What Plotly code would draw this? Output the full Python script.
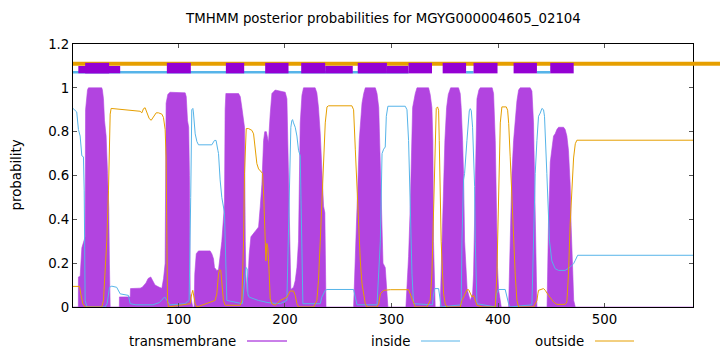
import plotly.graph_objects as go

# ---------------- data ----------------
seq_len = 583

tm_x = [1, 6, 6.1, 7.7, 9.3, 10.8, 12.4, 12.8, 13.3, 14.6, 15.5, 28, 28.6, 29.6, 30.6, 32.1, 33.4, 34.6, 35.2, 35.9,
        44.5, 44.6, 54.7, 55, 64, 66, 69.5, 71.5, 74, 75.5, 78, 82, 84.4, 86, 87.5, 88.4, 90, 92,
        106.3, 107.3, 108.5, 109.6, 110.3, 111, 112, 113.4, 114.7, 115.3, 116.7, 118.8, 129.7, 131.3, 132.9, 133.8,
        136, 137.6, 140.7, 143.2, 143.8, 144.5, 156.4, 158, 159.5, 161.1, 162, 162.7, 163.3, 164.5, 165.2, 166.4,
        168, 171, 175.2, 176.8, 178.3, 179.9, 181, 182.5, 184.5, 186.1, 187.7, 190.8, 200.2, 201.8, 203.4, 204.3,
        205.5, 208, 209.6, 211.2, 212.7, 214.3, 215.9, 217.4, 228.3, 229.9, 231.4, 233.1, 234.6, 236.2, 237.4,
        237.8, 238.5, 264.4, 265.3, 267.6, 268.5, 269.7, 270.7, 272.3, 273.9, 275.4, 284.8, 286.4, 288, 289.5,
        291.1, 292, 294.1, 295.5, 296.6, 313.5, 314.5, 316, 317.6, 318.6, 319.8, 322.3, 323.9, 334.8, 336.3,
        337.9, 338.8, 339.4, 340.4, 341, 345.7, 346.6, 347.9, 349.2, 350.1, 351.7, 353.3, 355.5, 362.9, 364.5,
        365.4, 366.7, 367.6, 368.6, 369.5, 371, 373.9, 376.1, 377, 378, 379.2, 380.2, 382, 383.3, 394.5, 395.8,
        397.4, 398.4, 399.5, 400.5, 402.1, 403, 409.9, 410.5, 411.4, 413, 414.6, 416.1, 417.7, 419.3, 420.8,
        430.2, 431.8, 433.3, 434.3, 434.9, 435.8, 436.5, 446, 446.4, 447.4, 448.3, 449, 450.5, 452.1, 453.6,
        455.2, 456.8, 461.5, 463, 464.6, 466.1, 467.7, 468.6, 469.3, 470.2, 471, 472.5, 583]
tm_y = [0, 0, 0.137, 0.14, 0.27, 0.30, 0.32, 0.9, 0.94, 0.99, 1.0, 1.0, 0.99, 0.95, 0.85, 0.78, 0.61, 0.45, 0.2, 0.0,
        0, 0.046, 0.046, 0.084, 0.086, 0.09, 0.11, 0.13, 0.137, 0.12, 0.10, 0.09, 0.085, 0.13, 0.2, 0.93, 0.97, 0.98,
        0.977, 0.96, 0.85, 0.82, 0.6, 0.06, 0.03, 0.0, 0.0, 0.15, 0.243, 0.256, 0.256, 0.243, 0.22, 0.18,
        0.167, 0.17, 0.30, 0.47, 0.9, 0.974, 0.974, 0.96, 0.91, 0.85, 0.82, 0.3, 0.15, 0.05, 0.12, 0.24,
        0.32, 0.34, 0.365, 0.46, 0.56, 0.76, 0.80, 0.80, 0.75, 0.88, 0.974, 0.99, 0.98, 0.95, 0.6, 0.3,
        0.08, 0.09, 0.12, 0.18, 0.3, 0.84, 0.966, 1.0, 1.0, 0.977, 0.913, 0.79, 0.61, 0.46, 0.43,
        0.10, 0.0, 0.0, 0.15, 0.46, 0.58, 0.76, 0.85, 0.93, 0.974, 1.0, 1.0, 0.974, 0.91, 0.61,
        0.30, 0.2, 0.18, 0.05, 0.0, 0.0, 0.08, 0.23, 0.46, 0.76, 0.91, 0.974, 1.0, 1.0, 0.97,
        0.91, 0.76, 0.3, 0.08, 0.0, 0.0, 0.15, 0.30, 0.61, 0.76, 0.91, 0.97, 1.0, 1.0, 0.974,
        0.91, 0.76, 0.61, 0.3, 0.2, 0.08, 0.03, 0.06, 0.15, 0.4, 0.76, 0.95, 0.99, 1.0, 1.0, 0.974,
        0.76, 0.46, 0.18, 0.08, 0.04, 0.0, 0.0, 0.15, 0.30, 0.61, 0.76, 0.85, 0.94, 0.99, 1.0,
        1.0, 0.985, 0.84, 0.61, 0.38, 0.15, 0.0, 0.0, 0.15, 0.40, 0.53, 0.66, 0.72, 0.78, 0.79,
        0.81, 0.82, 0.82, 0.81, 0.78, 0.715, 0.56, 0.37, 0.30, 0.15, 0.03, 0.0, 0.0]

in_x = [1, 4.5, 6.1, 7.7, 9.3, 10.8, 11.5, 12.4, 14, 31.2, 33, 35.3, 37.4, 42, 45.3, 53, 54.7, 60, 76, 82, 87, 89, 92,
        106, 110, 111.5, 112.5, 113.5, 114, 115.7, 117.3, 118.8, 131.3, 133.8, 135.3, 137, 137.6, 139.1, 140.7,
        143.2, 143.8, 144.5, 145.4, 160, 162.7, 163.3, 164.5, 165.2, 166.4, 175, 184, 195.5, 201.8, 203.4,
        205.5, 206.4, 207.1, 208, 209.6, 211.2, 212.7, 214.3, 215.2, 215.9, 216.8, 233.1, 234.6, 237.8, 239.4,
        264.4, 266, 267.6, 286.4, 289.5, 291.1, 292.6, 294.1, 295.1, 296.6, 312.9, 314.5, 316, 317.6, 319.2,
        320.7, 338.5, 339.4, 340.7, 344.2, 345.7, 346.6, 365.4, 366.1, 367.6, 368.6, 370.8, 373.0, 373.9, 374.9,
        376.1, 377.1, 378.0, 378.6, 380.2, 397.4, 398.5, 400.5, 406.7, 409.9, 411.4, 431.8, 433.3, 434.9, 436.5,
        438, 439.6, 441.2, 442.7, 443.6, 445.8, 447.4, 448.3, 450.5, 453.6, 456.8, 463, 467.7, 470.9, 472.5,
        474.7, 583]
in_y = [0.906, 0.89, 0.81, 0.78, 0.69, 0.685, 0.53, 0.03, 0.0, 0.0, 0.015, 0.09, 0.095, 0.09, 0.06, 0.053, 0.015, 0.01,
        0.01, 0.02, 0.046, 0.03, 0.01,
        0.015, 0.03, 0.5, 0.9, 0.906, 0.89, 0.79, 0.755, 0.74, 0.74, 0.76, 0.76, 0.715, 0.70, 0.58, 0.50,
        0.43, 0.30, 0.12, 0.03, 0.015, 0.15, 0.18, 0.175, 0.06, 0.045, 0.03, 0.02, 0.015, 0.03, 0.45,
        0.82, 0.85, 0.855, 0.84, 0.82, 0.78, 0.715, 0.69, 0.45, 0.15, 0.015, 0.015, 0.045, 0.076, 0.08,
        0.08, 0.045, 0.01, 0.01, 0.3, 0.70, 0.72, 0.73, 0.87, 0.916, 0.916, 0.90, 0.76, 0.46, 0.15,
        0.015, 0.01, 0.06, 0.084, 0.084, 0.015, 0.0, 0.01, 0.30, 0.58, 0.61, 0.76, 0.895, 0.905, 0.895,
        0.82, 0.68, 0.55, 0.30, 0.015, 0.0, 0.06, 0.08, 0.08, 0.015, 0.0, 0.01, 0.30, 0.61, 0.76,
        0.87, 0.885, 0.906, 0.90, 0.87, 0.61, 0.43, 0.30, 0.21, 0.175, 0.167, 0.167, 0.182, 0.198, 0.213,
        0.236, 0.236]

out_x = [1, 7.1, 8.3, 10.2, 12.4, 28, 29.6, 31.2, 32.7, 34.3, 35.3, 35.9, 36.8, 43.7, 54.7, 64, 65.6, 67.2, 68.7,
         70.3, 72.5, 74.4, 76.6, 79.1, 81.2, 84.4, 85.9, 87.5, 88.4, 89.1, 89.7, 90.6, 110.9, 112.5, 113.4, 115.7,
         117.3, 134.4, 136, 137.6, 138.5, 139.7, 140.7, 142.2, 143.8, 158, 159.5, 161.1, 162, 162.7, 163.6, 165.8,
         168.9, 170.5, 172, 173.6, 175.2, 177.3, 178.9, 179.9, 180.8, 182.1, 183, 183.9, 185.2, 186.1, 187.7,
         190.8, 195.5, 201.8, 204.9, 208, 209.6, 211.2, 212.7, 226.8, 229.9, 231.4, 233.1, 234.6, 236.2, 237.8,
         239.4, 240.9, 262.8, 264.4, 266, 267.6, 269.1, 270.7, 272.3, 273.9, 275.4, 277, 286.4, 288, 289.5,
         292.6, 298.9, 316, 317.6, 320.7, 322.3, 333.2, 336.3, 337.9, 339.4, 340.4, 341, 342, 343.2, 344.2,
         344.8, 345.7, 346.6, 347.9, 348.9, 350.4, 352, 364.5, 366.1, 367.7, 369.2, 370.8, 372.4, 373.9, 375.5,
         377, 378.6, 380.2, 385, 397.4, 398.9, 400.5, 402.1, 403.6, 407.7, 409, 410, 411.4, 413, 414.6, 416.1,
         417.7, 419.3, 433.3, 436.5, 437.4, 438, 442.7, 444.3, 447.4, 450.5, 452.1, 455.2, 463, 464.6, 466.1,
         467.7, 469.3, 470.9, 472.5, 474, 583]
out_y = [0.094, 0.094, 0.06, 0.015, 0.0, 0.0, 0.03, 0.15, 0.30, 0.53, 0.76, 0.88, 0.906, 0.903, 0.898, 0.893, 0.886,
         0.905, 0.909, 0.89, 0.86, 0.852, 0.87, 0.886, 0.886, 0.88, 0.865, 0.81, 0.68, 0.30, 0.03, 0.0, 0.015,
         0.06, 0.076, 0.015, 0.0, 0.03, 0.06, 0.15, 0.17, 0.168, 0.106, 0.03, 0.008, 0.008, 0.03, 0.30, 0.61,
         0.76, 0.814, 0.814, 0.806, 0.79, 0.715, 0.654, 0.63, 0.62, 0.61, 0.52, 0.34, 0.21, 0.29, 0.27, 0.15,
         0.038, 0.015, 0.008, 0.03, 0.045, 0.073, 0.073, 0.053, 0.015, 0.0, 0.0, 0.03, 0.12, 0.30, 0.49, 0.72,
         0.84, 0.913, 0.918, 0.918, 0.90, 0.72, 0.53, 0.37, 0.21, 0.106, 0.046, 0.015, 0.0, 0.0, 0.015, 0.06,
         0.076, 0.079, 0.079, 0.06, 0.015, 0.0, 0.0, 0.03, 0.15, 0.46, 0.68, 0.84, 0.906, 0.913, 0.898,
         0.76, 0.53, 0.30, 0.15, 0.06, 0.015, 0.0, 0.0, 0.03, 0.046, 0.06, 0.079, 0.079, 0.06, 0.046,
         0.053, 0.03, 0.008, 0.0, 0.0, 0.15, 0.53, 0.84, 0.913, 0.913, 0.898, 0.837, 0.685, 0.50, 0.30, 0.15,
         0.03, 0.0, 0.0, 0.03, 0.06, 0.076, 0.084, 0.076, 0.053, 0.03, 0.023, 0.012, 0.012, 0.023, 0.15,
         0.38, 0.53, 0.68, 0.745, 0.761, 0.761]

# predicted topology band at the top
top_outside = [(1, 583)]
top_inside = [(1, 316), (370, 377), (436.5, 449)]
tm_boxes = [(12.4, 34.9), (89.1, 111.6), (144.5, 161.7), (181.4, 203.3), (215.2, 237.7), (268.3, 295.7),
            (316, 338), (348, 370), (377, 399.5), (414.6, 436.5), (449, 471)]
tm_boxes_low = [(6, 45.3), (237.7, 263.6), (295.7, 316)]

x_ticks = [100, 200, 300, 400, 500]
y_ticks = [0, 0.2, 0.4, 0.6, 0.8, 1.0, 1.2]
y_tick_text = ["0", "0.2", "0.4", "0.6", "0.8", "1", "1.2"]

title = "TMHMM posterior probabilities for MGYG000004605_02104"
series_names = ["transmembrane", "inside", "outside"]

# ---------------- styling ----------------
C_TM = "#9400D3"
C_TM_FILL = "rgb(178,68,224)"
C_IN = "#56B4E9"
C_OUT = "#E69F00"
FONT = "DejaVu Sans"
FS = 13.33

fig = go.Figure()

fig.add_trace(go.Scatter(x=tm_x, y=tm_y, mode="lines", fill="tozeroy",
                         fillcolor=C_TM_FILL, line=dict(color=C_TM_FILL, width=0.6),
                         showlegend=False, hoverinfo="skip"))
fig.add_trace(go.Scatter(x=in_x, y=in_y, mode="lines", line=dict(color=C_IN, width=1),
                         showlegend=False))
fig.add_trace(go.Scatter(x=out_x, y=out_y, mode="lines", line=dict(color=C_OUT, width=1),
                         showlegend=False))

# top band lines
for a, b in top_outside:
    fig.add_trace(go.Scatter(x=[a, b], y=[1.11, 1.11], mode="lines",
                             line=dict(color=C_OUT, width=4), showlegend=False))
for a, b in top_inside:
    fig.add_trace(go.Scatter(x=[a, b], y=[1.071, 1.071], mode="lines",
                             line=dict(color=C_IN, width=2.6), showlegend=False))

shapes = []
for a, b in tm_boxes_low:
    shapes.append(dict(type="rect", xref="x", yref="y", x0=a, x1=b, y0=1.066, y1=1.10,
                       fillcolor=C_TM, line=dict(width=0), layer="above"))
for a, b in tm_boxes:
    shapes.append(dict(type="rect", xref="x", yref="y", x0=a, x1=b, y0=1.066, y1=1.114,
                       fillcolor=C_TM, line=dict(width=0), layer="above"))
# orange band continues past the right frame (as in the reference)
shapes.append(dict(type="line", xref="paper", yref="paper", x0=1.0, x1=1.05,
                   y0=1.11 / 1.2, y1=1.11 / 1.2, line=dict(color=C_OUT, width=4), layer="above"))

# legend (text followed by a line sample, gnuplot style)
W, H = 720, 352
ml, mr, mt, mb = 73, 27, 44, 45
pw, ph = W - ml - mr, H - mt - mb
def px2paper_x(px):
    return (px - ml) / pw
def py2paper_y(py):
    return (H - mb - py) / ph

legend_items = [(series_names[0], C_TM, 238, 247, 287),
                (series_names[1], C_IN, 412, 421, 460),
                (series_names[2], C_OUT, 586, 595, 634)]
annotations = []
ly = 341
for name, col, tx, l0, l1 in legend_items:
    annotations.append(dict(text=name, xref="paper", yref="paper", x=px2paper_x(tx), y=py2paper_y(ly),
                            xanchor="right", yanchor="middle", showarrow=False,
                            font=dict(family=FONT, size=FS, color="#000")))
    shapes.append(dict(type="line", xref="paper", yref="paper", x0=px2paper_x(l0), x1=px2paper_x(l1),
                       y0=py2paper_y(ly), y1=py2paper_y(ly), line=dict(color=col, width=1)))

annotations.append(dict(text="probability", xref="paper", yref="paper", x=px2paper_x(16), y=0.5,
                        textangle=-90, xanchor="center", yanchor="middle", showarrow=False,
                        font=dict(family=FONT, size=FS, color="#000")))
annotations.append(dict(text=title, xref="paper", yref="paper", x=0.5, y=py2paper_y(19),
                        xanchor="center", yanchor="middle", showarrow=False,
                        font=dict(family=FONT, size=FS, color="#000")))

fig.update_layout(
    width=W, height=H,
    margin=dict(l=ml, r=mr, t=mt, b=mb),
    paper_bgcolor="white", plot_bgcolor="white",
    shapes=shapes, annotations=annotations,
    font=dict(family=FONT, size=FS, color="#000"),
    xaxis=dict(range=[1, seq_len], tickvals=x_ticks, ticks="inside", ticklen=4, tickcolor="#555",
               showline=True, linecolor="#000", linewidth=1, mirror="allticks", showgrid=False,
               zeroline=False, tickfont=dict(family=FONT, size=FS)),
    yaxis=dict(range=[0, 1.2], tickvals=y_ticks, ticktext=y_tick_text,
               ticks="inside", ticklen=4, tickcolor="#555",
               showline=True, linecolor="#000", linewidth=1, mirror="allticks", showgrid=False,
               zeroline=False, tickfont=dict(family=FONT, size=FS)),
)

fig.write_html("out.html")
